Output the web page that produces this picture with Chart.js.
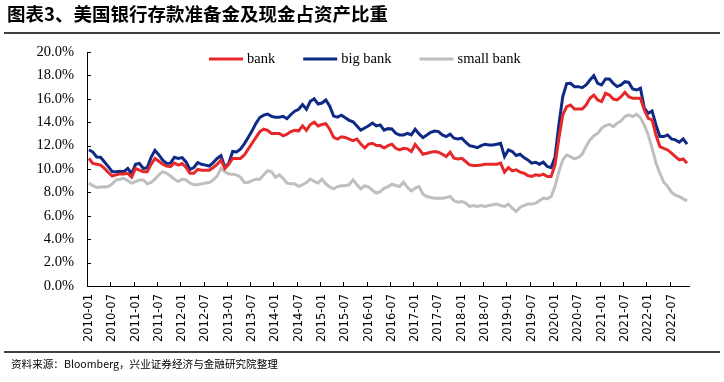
<!DOCTYPE html>
<html><head><meta charset="utf-8">
<script src="https://cdn.jsdelivr.net/npm/chart.js@4.4.0/dist/chart.umd.min.js"></script>
<style>html,body{margin:0;padding:0;background:#fff;} canvas{display:block;}</style>
</head><body>
<canvas id="c" width="724" height="382"></canvas>
<script>
// Categories: monthly, 2010-01 .. 2022-11
const months = [];
for (let y = 2010; y <= 2022; y++) {
  for (let m = 1; m <= 12; m++) {
    if (y === 2022 && m > 11) break;
    months.push(y + '-' + String(m).padStart(2, '0'));
  }
}

const seriesNames = ['bank', 'big bank', 'small bank'];

const bank = [
  10.9, 10.47, 10.4, 10.33, 10.05, 9.7, 9.4, 9.5, 9.58, 9.58,
  9.63, 9.3, 10.05, 9.9, 9.77, 9.77, 10.4, 10.9, 10.66, 10.4,
  10.25, 10.2, 10.5, 10.33, 10.47, 10.13, 9.63, 9.63, 9.96, 9.9,
  9.9, 9.9, 10.13, 10.4, 10.75, 10.05, 10.4, 10.9, 10.9, 10.9,
  11.2, 11.7, 12.2, 12.7, 13.2, 13.4, 13.3, 13.04, 13.04, 13.04,
  12.84, 12.98, 13.2, 13.3, 13.26, 13.68, 13.3, 13.8, 14.0, 13.68,
  13.8, 13.87, 13.4, 12.7, 12.56, 12.76, 12.7, 12.56, 12.43, 12.56,
  12.13, 11.8, 12.13, 12.2, 12.0, 12.0, 11.8, 12.0, 12.12, 11.77,
  11.63, 11.77, 11.72, 11.49, 12.1, 11.7, 11.26, 11.35, 11.43, 11.49,
  11.43, 11.26, 11.06, 11.43, 10.92, 10.86, 10.92, 10.64, 10.35, 10.3,
  10.3, 10.35, 10.41, 10.41, 10.41, 10.41, 10.5, 9.73, 10.12, 9.84,
  9.93, 9.73, 9.64, 9.44, 9.36, 9.5, 9.44, 9.56, 9.36, 9.36,
  10.35, 12.63, 14.62, 15.33, 15.47, 15.13, 15.13, 15.13, 15.47, 16.04,
  16.32, 15.9, 15.76, 16.47, 16.32, 15.98, 15.9, 16.18, 16.55, 16.18,
  16.04, 16.04, 16.04, 15.04, 14.33, 14.19, 12.91, 11.92, 11.77, 11.63,
  11.35, 11.06, 10.78, 10.86, 10.5
];

const bigBank = [
  11.64, 11.45, 11.03, 11.0, 10.6, 10.2, 9.77, 9.77, 9.8, 9.77,
  10.05, 9.6, 10.4, 10.47, 10.05, 10.1, 11.0, 11.6, 11.2, 10.75,
  10.47, 10.5, 11.0, 10.9, 10.97, 10.6, 9.96, 10.13, 10.55, 10.4,
  10.33, 10.25, 10.55, 10.9, 11.14, 10.13, 10.5, 11.5, 11.45, 11.7,
  12.15, 12.7, 13.26, 13.9, 14.4, 14.6, 14.7, 14.5, 14.43, 14.43,
  14.5, 14.3, 14.66, 14.94, 15.1, 15.5, 15.1, 15.78, 16.0, 15.55,
  15.64, 15.9, 15.36, 14.52, 14.43, 14.6, 14.38, 14.16, 14.04, 13.68,
  13.32, 13.5, 13.7, 13.93, 13.68, 13.77, 13.32, 13.45, 13.42, 13.05,
  12.91, 12.91, 13.05, 12.91, 13.4, 13.0, 12.68, 12.91, 13.14, 13.25,
  13.2, 12.91, 12.77, 12.97, 12.63, 12.57, 12.63, 12.29, 12.0, 11.92,
  11.83, 12.0, 12.12, 12.06, 12.06, 12.12, 12.2, 11.06, 11.63, 11.49,
  11.15, 11.26, 10.98, 10.78, 10.5, 10.58, 10.41, 10.58, 10.21, 10.12,
  11.0, 13.8, 16.2, 17.3, 17.32, 17.04, 17.04, 16.95, 17.18, 17.6,
  17.97, 17.32, 17.18, 17.69, 17.69, 17.32, 17.04, 17.18, 17.46, 17.4,
  16.84, 16.75, 16.9, 15.19, 14.76, 14.96, 13.76, 12.77, 12.77, 12.91,
  12.57, 12.49, 12.29, 12.57, 12.12
];

const smallBank = [
  8.8, 8.57, 8.43, 8.46, 8.46, 8.5, 8.73, 9.07, 9.13, 9.2,
  9.0, 8.8, 8.93, 9.07, 9.07, 8.73, 8.85, 9.13, 9.5, 9.77,
  9.63, 9.4, 9.13, 8.93, 9.13, 9.07, 8.8, 8.66, 8.66, 8.73,
  8.8, 8.85, 9.07, 9.4, 10.05, 9.77, 9.58, 9.55, 9.5, 9.3,
  8.85, 8.85, 9.0, 9.13, 9.13, 9.5, 9.86, 9.77, 9.3, 9.5,
  9.2, 8.8, 8.73, 8.73, 8.5, 8.66, 8.85, 9.13, 8.93, 8.8,
  9.13, 8.73, 8.46, 8.3, 8.5, 8.57, 8.57, 8.66, 9.07, 8.66,
  8.3, 8.57, 8.46, 8.18, 7.95, 8.07, 8.35, 8.5, 8.7, 8.59,
  8.5, 8.87, 8.42, 8.13, 8.36, 8.5, 7.85, 7.65, 7.56, 7.51,
  7.51, 7.51, 7.56, 7.65, 7.28, 7.17, 7.22, 7.08, 6.8, 6.88,
  6.8, 6.88, 6.8, 6.88, 6.94, 7.0, 6.88, 6.8, 7.0, 6.65,
  6.37, 6.71, 6.88, 7.0, 7.0, 7.08, 7.28, 7.51, 7.45, 7.65,
  8.5, 9.78, 10.78, 11.2, 11.06, 10.86, 10.98, 11.26, 11.92, 12.49,
  12.85, 13.05, 13.48, 13.71, 13.82, 13.62, 13.91, 14.11, 14.48, 14.62,
  14.48, 14.68, 14.39, 13.76, 12.91, 11.77, 10.5, 9.64, 8.87, 8.5,
  8.02, 7.74, 7.65, 7.45, 7.28
];

const yTicks = [0, 2, 4, 6, 8, 10, 12, 14, 16, 18, 20];
const labelEvery = 6;

const TITLE = '图表3、美国银行存款准备金及现金占资产比重';
const SOURCE = '资料来源：Bloomberg，兴业证券经济与金融研究院整理';

const decorPlugin = {
  id: 'decor',
  afterDraw(chart) {
    const ctx = chart.ctx;
    const ca = chart.chartArea;
    const xs = chart.scales.x, ys = chart.scales.y;
    ctx.save();
    // title
    ctx.fillStyle = '#000';
    ctx.font = 'bold 18.5px "Noto Sans CJK SC"';
    ctx.textBaseline = 'middle';
    ctx.textAlign = 'left';
    ctx.fillText(TITLE, 7, 14);
    // rules
    ctx.strokeStyle = '#000';
    ctx.lineWidth = 1.5;
    ctx.beginPath(); ctx.moveTo(4, 33); ctx.lineTo(720, 33); ctx.stroke();
    ctx.beginPath(); ctx.moveTo(4, 352); ctx.lineTo(720, 352); ctx.stroke();
    // source
    ctx.font = '10.6px "Noto Sans CJK SC"';
    ctx.fillText(SOURCE, 11, 364);
    // inside ticks
    ctx.lineWidth = 1;
    ctx.beginPath();
    yTicks.forEach(v => {
      const y = Math.round(ys.getPixelForValue(v)) + 0.5;
      ctx.moveTo(ca.left, y); ctx.lineTo(ca.left + 4, y);
    });
    const half = (xs.getPixelForValue(1) - xs.getPixelForValue(0)) / 2;
    for (let i = labelEvery; i < months.length; i += labelEvery) {
      const x = Math.round(xs.getPixelForValue(i) - half) + 0.5;
      ctx.moveTo(x, ca.bottom); ctx.lineTo(x, ca.bottom - 4);
    }
    ctx.stroke();
    // legend
    let lx = ca.left + 122;
    const ly = 59;
    ctx.font = '14.5px "Liberation Serif"';
    chart.data.datasets.forEach(ds => {
      ctx.strokeStyle = ds.borderColor;
      ctx.lineWidth = 3;
      ctx.beginPath(); ctx.moveTo(lx, ly); ctx.lineTo(lx + 34, ly); ctx.stroke();
      ctx.fillStyle = '#000';
      ctx.fillText(ds.label, lx + 38, ly);
      lx += 38 + ctx.measureText(ds.label).width + 28;
    });
    ctx.restore();
  }
};

new Chart(document.getElementById('c'), {
  type: 'line',
  data: {
    labels: months,
    datasets: [
      { label: seriesNames[0], data: bank, borderColor: '#E6282B', borderWidth: 3, pointRadius: 0, tension: 0, fill: false },
      { label: seriesNames[1], data: bigBank, borderColor: '#0E2A84', borderWidth: 3, pointRadius: 0, tension: 0, fill: false },
      { label: seriesNames[2], data: smallBank, borderColor: '#BFBFBF', borderWidth: 3, pointRadius: 0, tension: 0, fill: false }
    ]
  },
  options: {
    responsive: false,
    devicePixelRatio: 1,
    animation: false,
    layout: { padding: { left: 0, right: 35, top: 52, bottom: 0 } },
    plugins: { legend: { display: false }, tooltip: { enabled: false }, title: { display: false } },
    scales: {
      x: {
        type: 'category',
        offset: true,
        grid: { display: false, drawTicks: false, offset: true },
        border: { display: true, color: '#000', width: 1 },
        ticks: {
          autoSkip: false,
          minRotation: 90,
          maxRotation: 90,
          padding: 8,
          color: '#000',
          font: { family: '"DejaVu Sans"', size: 11.5 },
          callback: function (val, idx) { return idx % labelEvery === 0 ? this.getLabelForValue(val) : null; }
        },
        afterFit(s) { s.height = 96; }
      },
      y: {
        min: 0, max: 20,
        grid: { display: false, drawTicks: false },
        border: { display: true, color: '#000', width: 1 },
        afterBuildTicks(s) { s.ticks = yTicks.map(v => ({ value: v })); },
        ticks: {
          padding: 13,
          color: '#000',
          font: { family: '"Liberation Serif"', size: 14.5 },
          callback: v => v.toFixed(1) + '%'
        },
        afterFit(s) { s.width = 87; }
      }
    }
  },
  plugins: [decorPlugin]
});
</script>
</body></html>
